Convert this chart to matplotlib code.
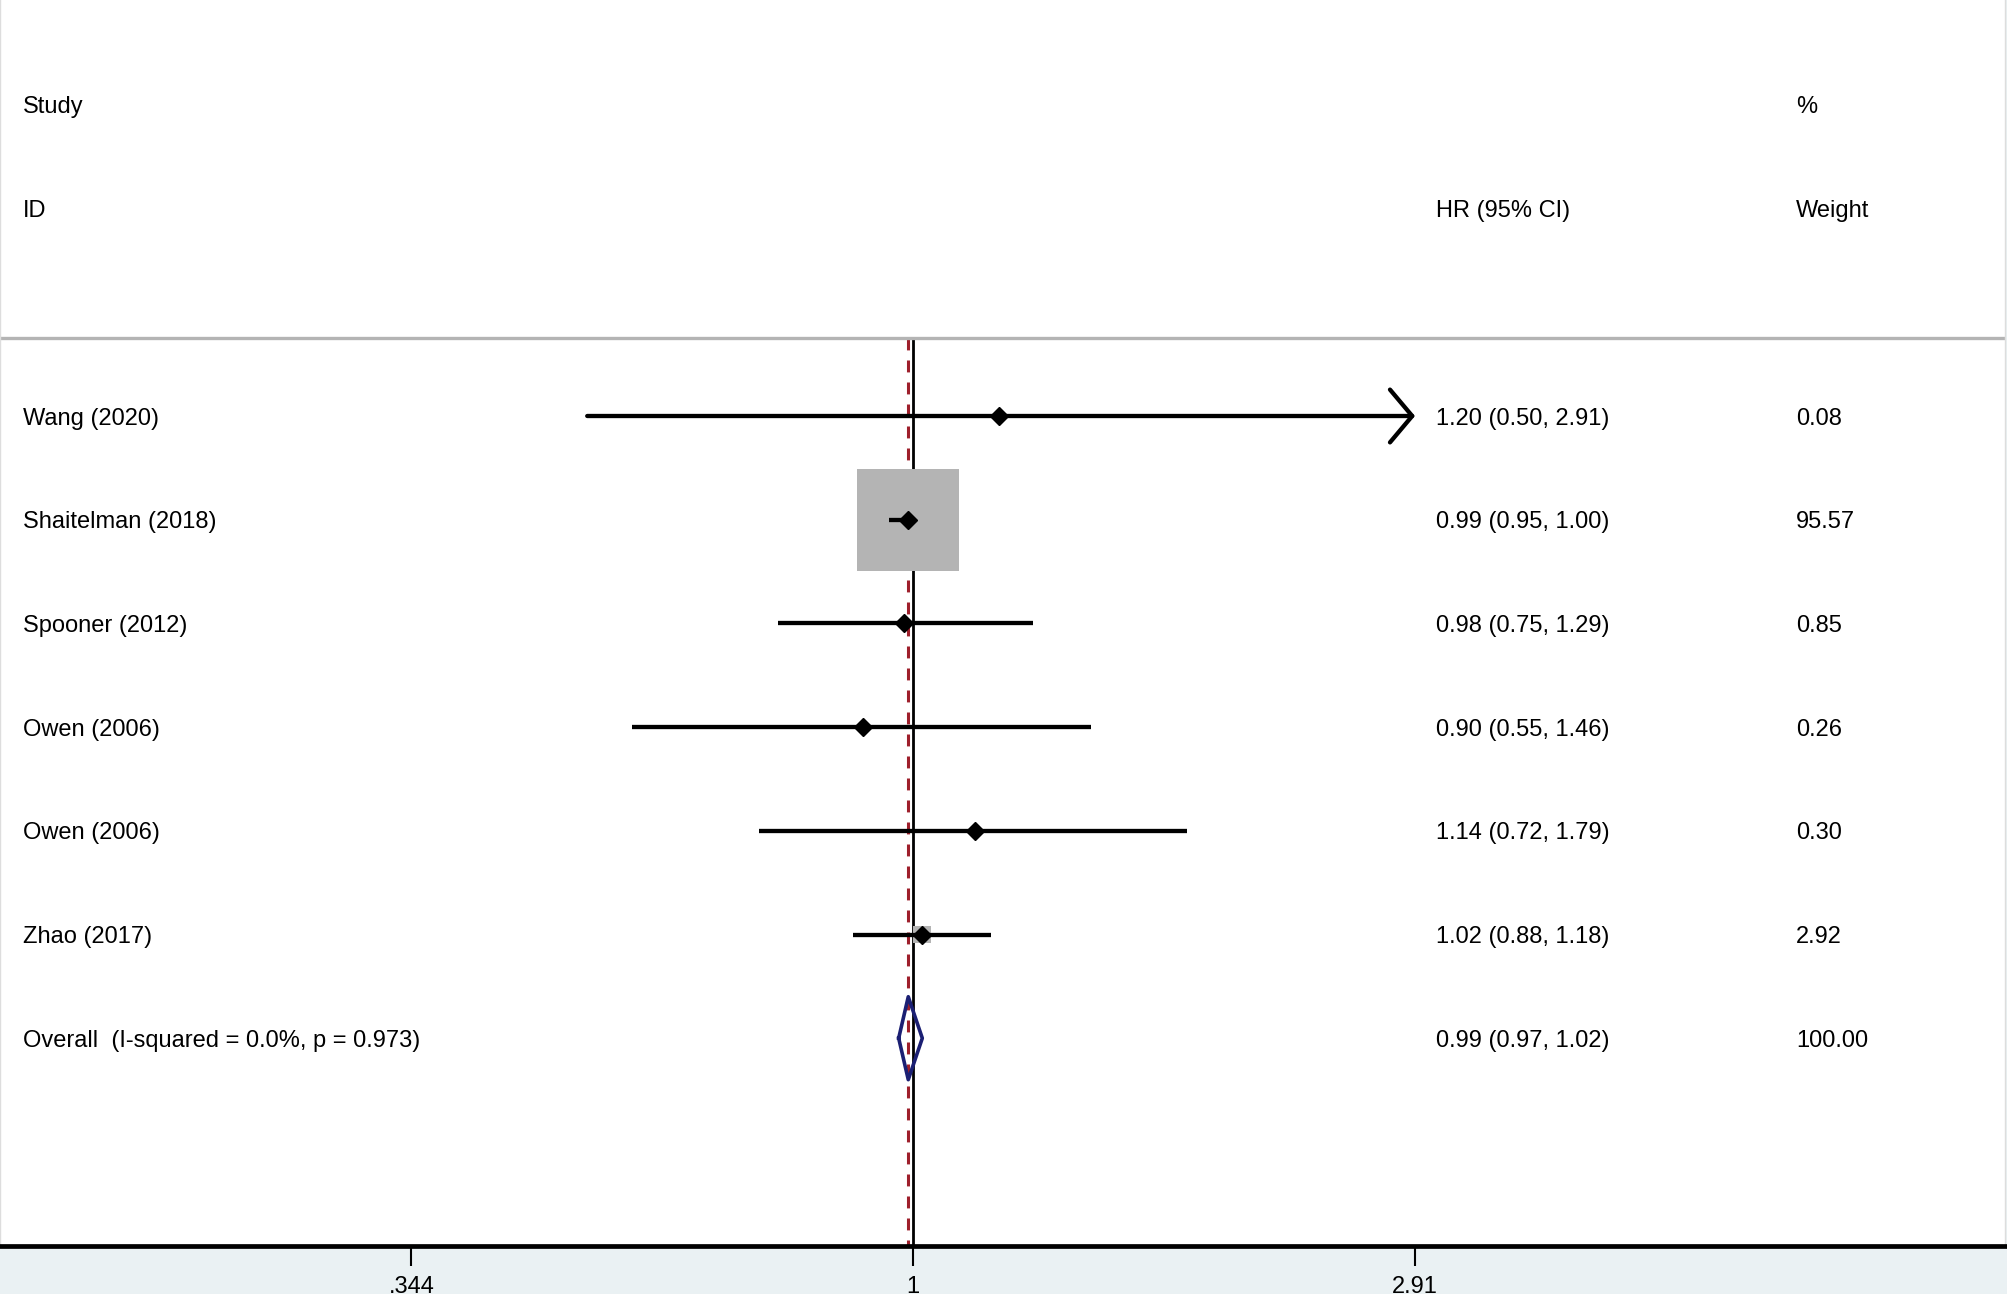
import numpy as np
import matplotlib
matplotlib.use('Agg')
import matplotlib.pyplot as plt
from matplotlib import transforms

plt.rcParams['font.family'] = ['Liberation Sans', 'DejaVu Sans']
plt.rcParams['font.size'] = 17

# data
studies = ['Wang (2020)', 'Shaitelman (2018)', 'Spooner (2012)', 'Owen (2006)',
           'Owen (2006)', 'Zhao (2017)']
hr = [1.20, 0.99, 0.98, 0.90, 1.14, 1.02]
ci_lo = [0.50, 0.95, 0.75, 0.55, 0.72, 0.88]
ci_hi = [2.91, 1.00, 1.29, 1.46, 1.79, 1.18]
weight = [0.08, 95.57, 0.85, 0.26, 0.30, 2.92]

overall_label = 'Overall  (I-squared = 0.0%, p = 0.973)'
overall_hr = 0.99
overall_lo = 0.97
overall_hi = 1.02
overall_weight = 100.00

xticks = [0.344, 1, 2.91]
xticklabels = ['.344', '1', '2.91']

W, H = 2008, 1294
fig = plt.figure(figsize=(W / 100, H / 100), dpi=100, facecolor='#eaf1f3')
ax = fig.add_axes([0, 48 / H, 2005 / W, 1246 / H])
ax.set_facecolor('white')

# x: log scale, 1 at pixel 913, 470 px per ln unit
ax.set_xscale('log')
ax.set_xlim(np.exp(-913 / 470), np.exp((2005 - 913) / 470))
# y: row units, row 0 at pixel 416, 103.7 px per row
ax.set_ylim((1246 - 416) / 103.7, -416 / 103.7)

rows = np.arange(len(studies))
y_over = len(studies)
y_line = -0.75
y_bot = (1246 - 416) / 103.7

# reference lines
ax.plot([1, 1], [y_line, y_bot], color='black', lw=2.0, zorder=1)
ax.plot([overall_hr, overall_hr], [y_line, y_bot], color='#9e1f2b', lw=2.2,
        dashes=(3.9, 3.3), zorder=1)
ax.plot([0.01, 100], [y_line, y_line], color='#b4b4b4', lw=2.4, zorder=1)

# weight boxes (area ~ weight)
side = 7.51 * np.sqrt(np.array(weight))
ax.scatter(hr, rows, s=side ** 2, marker='s', color='#b4b4b4', linewidths=0, zorder=2)

# confidence intervals
for i in range(len(studies)):
    if ci_hi[i] >= xticks[-1]:
        ax.annotate('', xy=(ci_hi[i], rows[i]), xytext=(ci_lo[i], rows[i]),
                    arrowprops=dict(arrowstyle='->,head_length=0.8,head_width=0.95',
                                    lw=3.1, color='black', shrinkA=0, shrinkB=0,
                                    mutation_scale=20), zorder=3)
    else:
        ax.plot([ci_lo[i], ci_hi[i]], [rows[i], rows[i]], color='black', lw=3.1,
                solid_capstyle='butt', zorder=3)
ax.plot(hr, rows, 'D', color='black', ms=8.7, zorder=4)

# overall diamond
ax.plot([overall_lo, overall_hr, overall_hi, overall_hr, overall_lo],
        [y_over, y_over - 0.4, y_over, y_over + 0.4, y_over],
        color='#1b1f73', lw=2.6, zorder=4)

# text columns
tr = transforms.blended_transform_factory(ax.transAxes, ax.transData)
x_lab, x_hr, x_w = 23 / 2005, 1436 / 2005, 1796 / 2005
off = 0.082


def put(x, y, s):
    ax.text(x, y + off, s, transform=tr, va='baseline', ha='left', fontsize=17)


put(x_lab, -3, 'Study')
put(x_w, -3, '%')
put(x_lab, -2, 'ID')
put(x_hr, -2, 'HR (95% CI)')
put(x_w, -2, 'Weight')
for i in range(len(studies)):
    put(x_lab, rows[i], studies[i])
    put(x_hr, rows[i], '%.2f (%.2f, %.2f)' % (hr[i], ci_lo[i], ci_hi[i]))
    put(x_w, rows[i], '%.2f' % weight[i])
put(x_lab, y_over, overall_label)
put(x_hr, y_over, '%.2f (%.2f, %.2f)' % (overall_hr, overall_lo, overall_hi))
put(x_w, y_over, '%.2f' % overall_weight)

# axis
ax.set_xticks(xticks)
ax.set_xticklabels(xticklabels)
ax.minorticks_off()
ax.set_yticks([])
ax.tick_params(axis='x', direction='out', length=14.4, width=1.5, pad=7, labelsize=17)
ax.spines['top'].set_visible(False)
for sp in ['left', 'right']:
    ax.spines[sp].set_color('#dddddd')
    ax.spines[sp].set_linewidth(1)
ax.spines['bottom'].set_linewidth(3.4)
ax.spines['bottom'].set_color('black')

fig.savefig('out.png', dpi=100, facecolor=fig.get_facecolor())
